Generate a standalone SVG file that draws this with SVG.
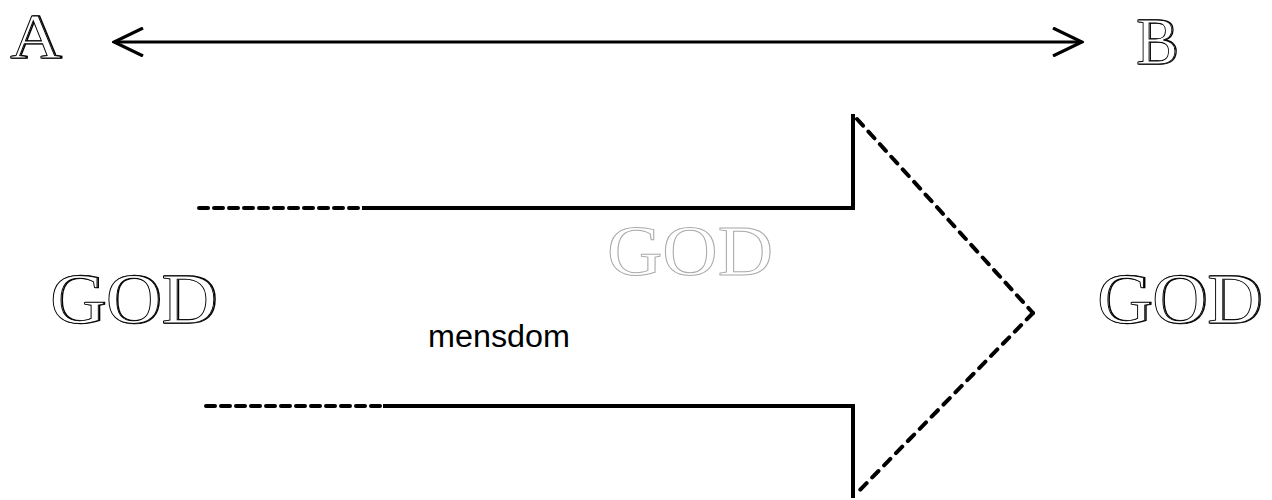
<svg xmlns="http://www.w3.org/2000/svg" width="1272" height="500" viewBox="0 0 1272 500">
<style>
.eng{font-family:"Liberation Serif","DejaVu Serif",serif;fill:#fff;stroke:#000;stroke-width:0.9;}
.engs{font-family:"Liberation Serif","DejaVu Serif",serif;fill:none;stroke:#000;stroke-width:1.4;}
.ghost{font-family:"Liberation Serif","DejaVu Serif",serif;fill:#fff;stroke:#aaa;stroke-width:1;}
.solid{fill:none;stroke:#000;stroke-width:4;stroke-linecap:butt;stroke-linejoin:miter;}
.dash{fill:none;stroke:#000;stroke-width:4;stroke-dasharray:9 6;stroke-linecap:round;}
.dashd{fill:none;stroke:#000;stroke-width:4;stroke-dasharray:9 8;stroke-linecap:round;}
.lbl{font-family:"Liberation Sans",Arial,sans-serif;font-size:31px;fill:#000;}
</style>
<defs>
<marker id="chev" viewBox="0 0 32 30" refX="30" refY="15" markerWidth="32" markerHeight="30" markerUnits="userSpaceOnUse" orient="auto-start-reverse">
<path d="M1,1 L30,15 L1,29" fill="none" stroke="#000" stroke-width="3.2"/>
</marker>
</defs>
<g id="label-A">
<text class="engs" x="10" y="58" font-size="64" textLength="51" lengthAdjust="spacingAndGlyphs" transform="translate(1.3,0)">A</text>
<text class="eng" x="10" y="58" font-size="64" textLength="51" lengthAdjust="spacingAndGlyphs">A</text>
</g>
<g id="label-B">
<text class="engs" x="1136" y="64" font-size="68" textLength="42" lengthAdjust="spacingAndGlyphs" transform="translate(1.3,0)">B</text>
<text class="eng" x="1136" y="64" font-size="68" textLength="42" lengthAdjust="spacingAndGlyphs">B</text>
</g>
<g id="connectors">
<line x1="114" y1="42" x2="1082" y2="42" stroke="#000" stroke-width="3.2" marker-start="url(#chev)" marker-end="url(#chev)"/>
</g>
<g id="big-arrow">
<line class="dash" x1="199" y1="208" x2="362" y2="208"/>
<polyline class="solid" points="362,208 853,208 853,114"/>
<line class="dashd" x1="857" y1="119" x2="1033" y2="313"/>
<line class="dashd" x1="1033" y1="313" x2="856" y2="494"/>
<line class="dash" x1="206" y1="406" x2="383" y2="406"/>
<polyline class="solid" points="383,406 853,406 853,498"/>
</g>
<g id="god-left">
<text class="engs" x="50" y="323" font-size="72" textLength="167" lengthAdjust="spacingAndGlyphs" transform="translate(1.2,0)">GOD</text>
<text class="eng" x="50" y="323" font-size="72" textLength="167" lengthAdjust="spacingAndGlyphs">GOD</text>
</g>
<g id="god-middle">
<text class="ghost" x="607" y="275" font-size="72" textLength="166" lengthAdjust="spacingAndGlyphs">GOD</text>
</g>
<g id="god-right">
<text class="engs" x="1097" y="323" font-size="72" textLength="165" lengthAdjust="spacingAndGlyphs" transform="translate(1.2,0)">GOD</text>
<text class="eng" x="1097" y="323" font-size="72" textLength="165" lengthAdjust="spacingAndGlyphs">GOD</text>
</g>
<g id="label-mensdom">
<text class="lbl" x="428" y="347" textLength="142" lengthAdjust="spacingAndGlyphs">mensdom</text>
</g>
</svg>
